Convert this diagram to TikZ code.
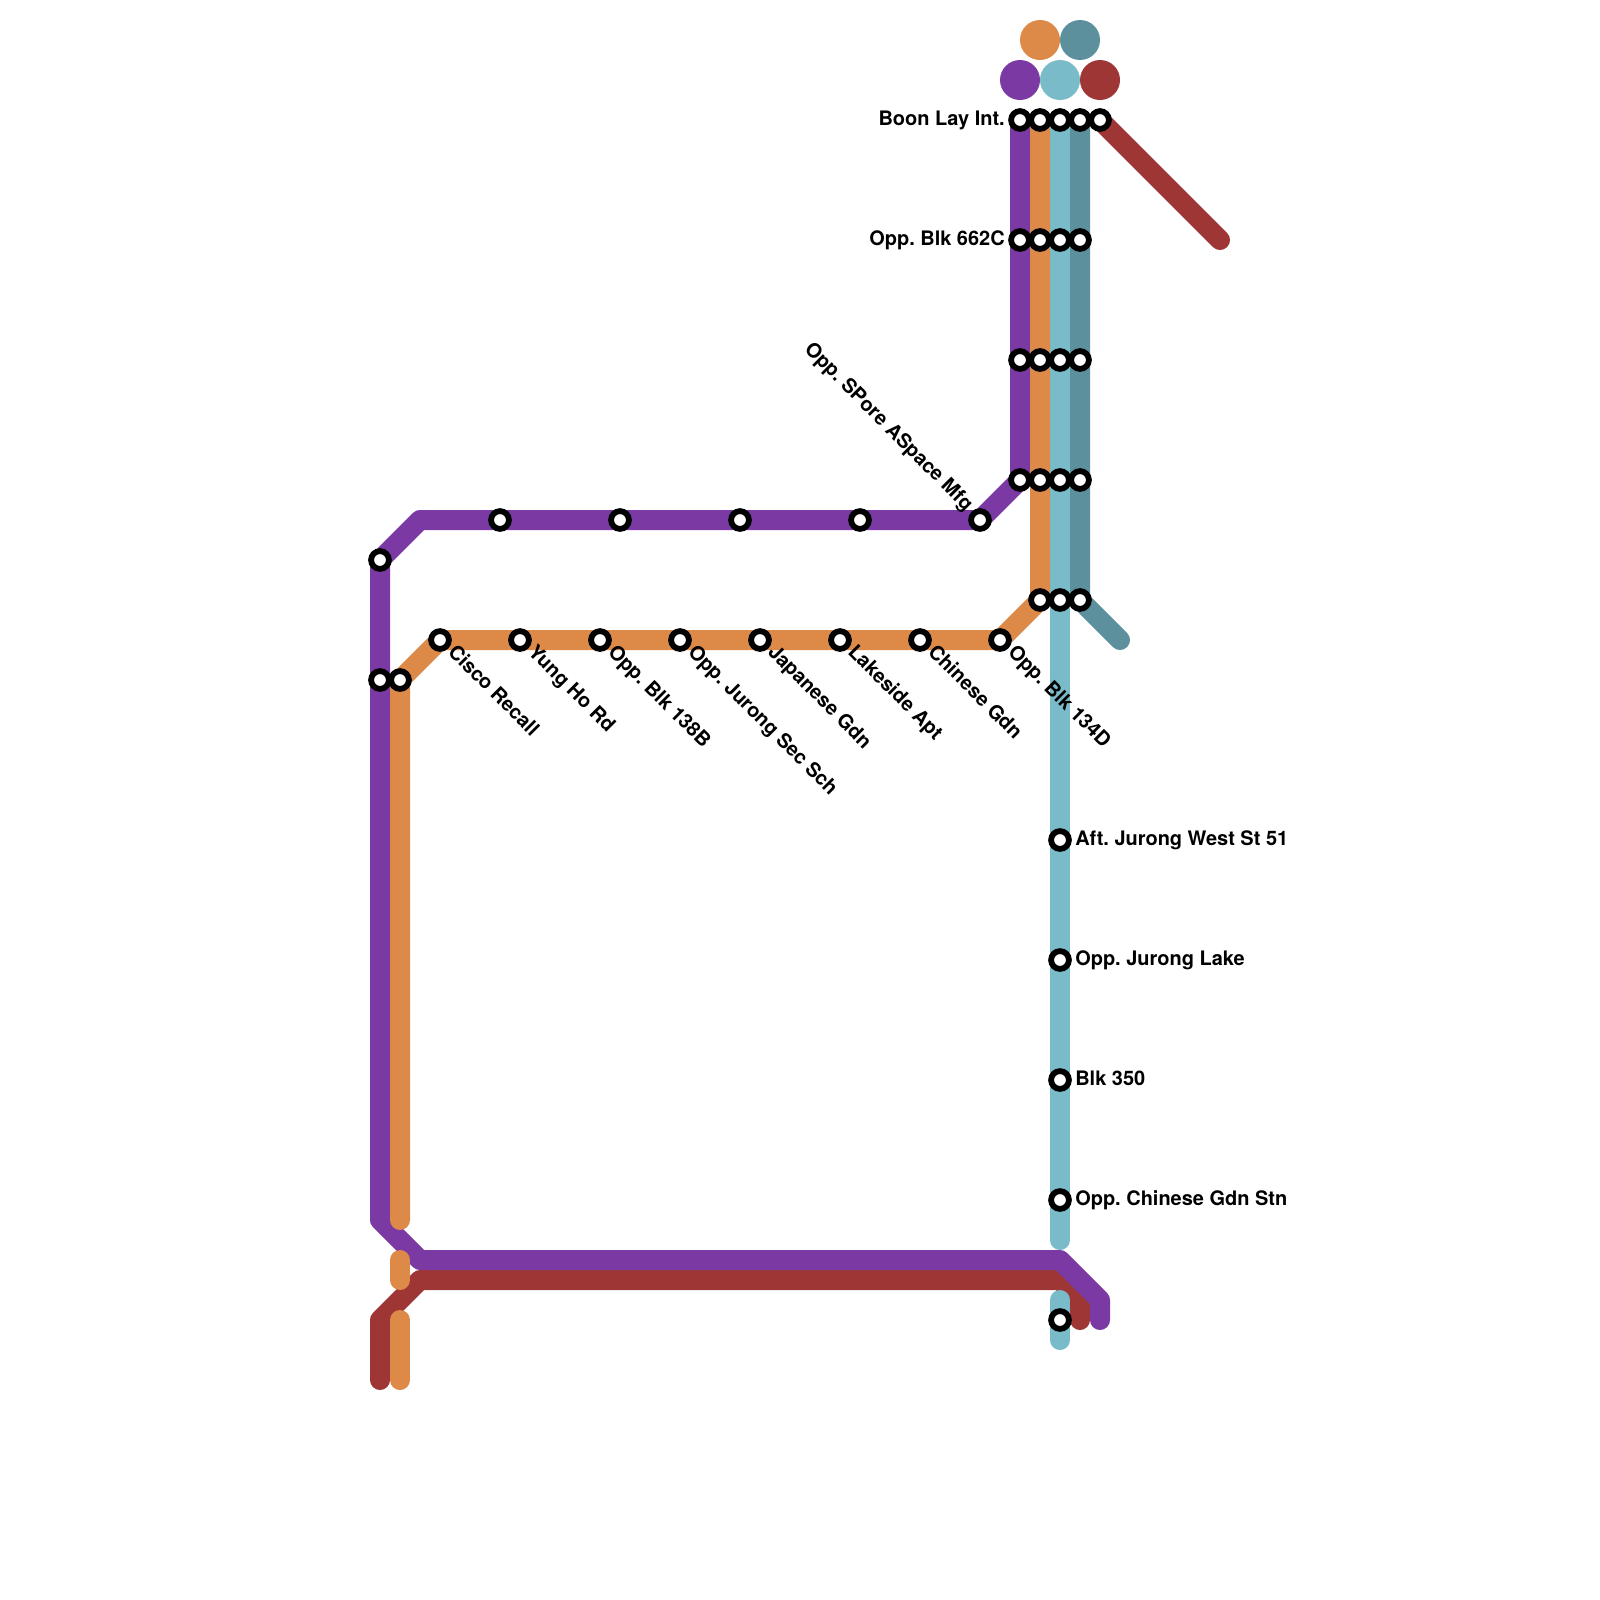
\documentclass[tikz,border=0pt]{standalone}
\usepackage{fontspec}
\setmainfont{TeX Gyre Heros}
\usetikzlibrary{backgrounds}
\definecolor{linePurple}{HTML}{7A39A3}
\definecolor{lineOrange}{HTML}{DD8A48}
\definecolor{lineCyan}{HTML}{79BBC9}
\definecolor{lineTeal}{HTML}{5C909C}
\definecolor{lineBrown}{HTML}{9E3636}
\frenchspacing

\begin{document}
\begin{tikzpicture}[
    x=0.025cm,y=-0.025cm,
    stn/.style={circle,draw=black,fill=white,line width=0.145cm,
                inner sep=0pt,minimum size=0.445cm},
    badge/.style={circle,inner sep=0pt,minimum size=1cm},
    routeline/.style={line width=0.5cm,line cap=round,line join=round},
    stnlbl/.style={font=\fontsize{14.2pt}{16pt}\selectfont\bfseries,inner sep=0pt,
                   text height=11.4pt,text depth=3pt},
    difflbl/.style={stnlbl,rotate=-45,anchor=west,xshift=0.35cm,yshift=0.04cm}
  ]
  \useasboundingbox (0,0) rectangle (1600,1600);

  % route badges on top
  \node[badge,fill=lineOrange] (bgOrange) at (1040,40) {};
  \node[badge,fill=lineTeal]   (bgTeal)   at (1080,40) {};
  \node[badge,fill=linePurple] (bgPurple) at (1020,80) {};
  \node[badge,fill=lineCyan]   (bgCyan)   at (1060,80) {};
  \node[badge,fill=lineBrown]  (bgBrown)  at (1100,80) {};

  % Stations of the trunk, row by row
  \node[stn] (a1) at (1020,120) {};
  \node[stn] (a2) at (1040,120) {};
  \node[stn] (a3) at (1060,120) {};
  \node[stn] (a4) at (1080,120) {};
  \node[stn] (a5) at (1100,120) {};
  \node[stn] (b1) at (1020,240) {};
  \node[stn] (b2) at (1040,240) {};
  \node[stn] (b3) at (1060,240) {};
  \node[stn] (b4) at (1080,240) {};
  \node[stn] (c1) at (1020,360) {};
  \node[stn] (c2) at (1040,360) {};
  \node[stn] (c3) at (1060,360) {};
  \node[stn] (c4) at (1080,360) {};
  \node[stn] (d1) at (1020,480) {};
  \node[stn] (d2) at (1040,480) {};
  \node[stn] (d3) at (1060,480) {};
  \node[stn] (d4) at (1080,480) {};
  \node[stn] (e2) at (1040,600) {};
  \node[stn] (e3) at (1060,600) {};
  \node[stn] (e4) at (1080,600) {};

  % Purple stations
  \node[stn] (p1) at (980,520) {};
  \node[stn] (p2) at (860,520) {};
  \node[stn] (p3) at (740,520) {};
  \node[stn] (p4) at (620,520) {};
  \node[stn] (p5) at (500,520) {};
  \node[stn] (p6) at (380,560) {};
  \node[stn] (p7) at (380,680) {};

  % Orange stations
  \node[stn] (o1) at (1000,640) {};
  \node[stn] (o2) at (920,640) {};
  \node[stn] (o3) at (840,640) {};
  \node[stn] (o4) at (760,640) {};
  \node[stn] (o5) at (680,640) {};
  \node[stn] (o6) at (600,640) {};
  \node[stn] (o7) at (520,640) {};
  \node[stn] (o8) at (440,640) {};
  \node[stn] (o9) at (400,680) {};

  % Cyan stations
  \node[stn] (q1) at (1060,840) {};
  \node[stn] (q2) at (1060,960) {};
  \node[stn] (q3) at (1060,1080) {};
  \node[stn] (q4) at (1060,1200) {};
  \node[stn] (q5) at (1060,1320) {};

  % Bends and free ends
  \coordinate (pBendA) at (420,520);
  \coordinate (pBendB) at (380,1220);
  \coordinate (pBendC) at (420,1260);
  \coordinate (pBendD) at (1060,1260);
  \coordinate (pBendE) at (1100,1300);
  \coordinate (pEnd) at (1100,1320);
  \coordinate (oEndA) at (400,1220);
  \coordinate (oGapA) at (400,1260);
  \coordinate (oGapB) at (400,1280);
  \coordinate (oLowA) at (400,1320);
  \coordinate (oLowB) at (400,1380);
  \coordinate (qEndA) at (1060,1240);
  \coordinate (qLowA) at (1060,1300);
  \coordinate (qLowB) at (1060,1340);
  \coordinate (tEnd) at (1120,640);
  \coordinate (rEndA) at (1220,240);
  \coordinate (rEndB) at (380,1380);
  \coordinate (rBendA) at (380,1320);
  \coordinate (rBendB) at (420,1280);
  \coordinate (rBendC) at (1060,1280);
  \coordinate (rBendD) at (1080,1300);
  \coordinate (rEndC) at (1080,1320);

  % Lines go under the stations
  \begin{scope}[on background layer]
    \draw[routeline,lineBrown] (a5.center) -- (rEndA);
    \draw[routeline,lineBrown] (rEndB) -- (rBendA) -- (rBendB) -- (rBendC) -- (rBendD) -- (rEndC);
    \draw[routeline,lineTeal] (a4.center) -- (e4.center) -- (tEnd);
    \draw[routeline,lineCyan] (a3.center) -- (qEndA);
    \draw[routeline,lineCyan] (qLowA) -- (qLowB);
    \draw[routeline,linePurple] (a1.center) -- (d1.center) -- (p1.center) -- (pBendA) -- (p6.center)
      -- (pBendB) -- (pBendC) -- (pBendD) -- (pBendE) -- (pEnd);
    \draw[routeline,lineOrange] (a2.center) -- (e2.center) -- (o1.center) -- (o8.center) -- (o9.center) -- (oEndA);
    \draw[routeline,lineOrange] (oGapA) -- (oGapB);
    \draw[routeline,lineOrange] (oLowA) -- (oLowB);
  \end{scope}

  % Labels left of the trunk
  \node[stnlbl,left=0.375cm] (lblA) at (a1) {Boon Lay Int.};
  \node[stnlbl,left=0.375cm] (lblB) at (b1) {Opp. Blk 662C};
  \node[stnlbl,rotate=-45,anchor=east,xshift=-0.4cm,yshift=0.03cm] (lblP) at (p1) {Opp. SPore ASpace Mfg};

  % Labels right of the cyan line
  \node[stnlbl,right=0.375cm] (lblQa) at (q1) {Aft. Jurong West St 51};
  \node[stnlbl,right=0.375cm] (lblQb) at (q2) {Opp. Jurong Lake};
  \node[stnlbl,right=0.375cm] (lblQc) at (q3) {Blk 350};
  \node[stnlbl,right=0.375cm] (lblQd) at (q4) {Opp. Chinese Gdn Stn};

  % Labels below the orange line
  \node[difflbl] (lblOa) at (o8) {Cisco Recall};
  \node[difflbl] (lblOb) at (o7) {Yung Ho Rd};
  \node[difflbl] (lblOc) at (o6) {Opp. Blk 138B};
  \node[difflbl] (lblOd) at (o5) {Opp. Jurong Sec Sch};
  \node[difflbl] (lblOe) at (o4) {Japanese Gdn};
  \node[difflbl] (lblOf) at (o3) {Lakeside Apt};
  \node[difflbl] (lblOg) at (o2) {Chinese Gdn};
  \node[difflbl] (lblOh) at (o1) {Opp. Blk 134D};
\end{tikzpicture}
\end{document}
